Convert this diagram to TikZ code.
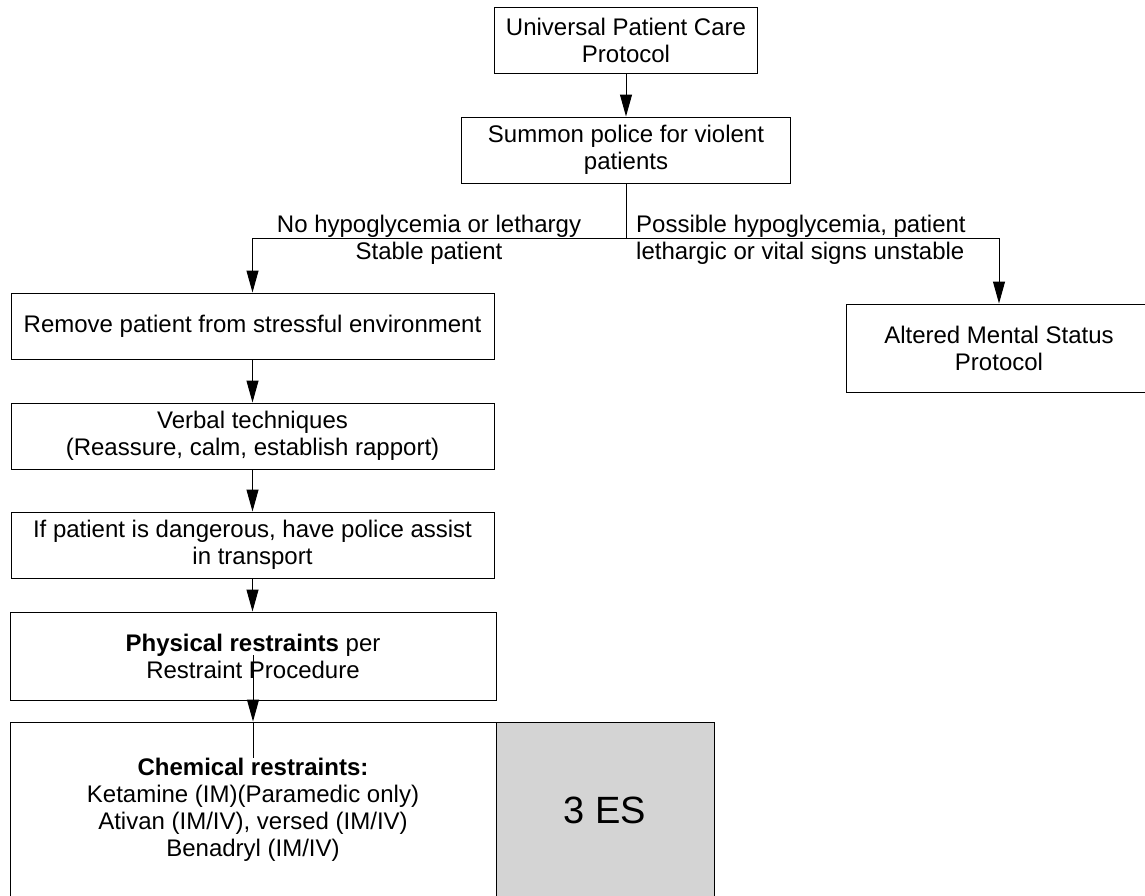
\documentclass[tikz,border=0pt]{standalone}
\usepackage{fontspec}
\setmainfont{Liberation Sans}
\usetikzlibrary{arrows.meta}
\definecolor{boxgray}{RGB}{212,212,212}
\begin{document}
\begin{tikzpicture}[x=1pt,y=-1pt,
  box/.style={draw=black, line width=1pt, rectangle, inner sep=0pt, align=center,
    font=\fontsize{24}{27}\selectfont},
  conn/.style={line width=1pt},
  arr/.style={line width=1pt, -{Triangle[width=12pt,length=22pt]}},
  lbl/.style={inner sep=0pt, font=\fontsize{24}{27}\selectfont}]
\useasboundingbox (0,0) rectangle (1145,895);
\node[box, minimum width=263pt, minimum height=66pt] (b1) at (626,40) {Universal Patient Care\\Protocol};
\node[box, minimum width=329pt, minimum height=66pt] (b2) at (626,150) {Summon police for violent\\patients};
\node[box, minimum width=483pt, minimum height=66pt] (b3) at (252.5,326) {Remove patient from stressful environment};
\node[box, minimum width=483pt, minimum height=66pt] (b4) at (252.5,436) {Verbal techniques\\(Reassure, calm, establish rapport)};
\node[box, minimum width=483pt, minimum height=66pt] (b5) at (252.5,545) {If patient is dangerous, have police assist\\in transport};
\node[box, minimum width=486pt, minimum height=88pt] (b6) at (253,656) {\textbf{Physical restraints} per\\Restraint Procedure};
\node[box, minimum width=486pt, minimum height=176pt] (b7) at (253,810) {\textbf{Chemical restraints:}\\Ketamine (IM)(Paramedic only)\\Ativan (IM/IV), versed (IM/IV)\\Benadryl (IM/IV)};
\node[box, fill=boxgray, minimum width=218pt, minimum height=176pt, font=\fontsize{38}{44}\selectfont] (b8) at (605,810) {3 ES};
\node[box, minimum width=306pt, minimum height=88pt] (b9) at (999,348) {Altered Mental Status\\Protocol};

\coordinate (j) at (626,238);
\coordinate (p1) at (253,655);
\coordinate (p2) at (253,758);

\draw[arr] (b1.south) -- (b2.north);
\draw[conn] (b2.south) -- (j);
\draw[arr] (j) -| (b3.north);
\draw[arr] (j) -| (b9.north);
\draw[arr] (b3.south) -- (b4.north);
\draw[arr] (b4.south) -- (b5.north);
\draw[arr] (b5.south) -- (b6.north -| b5.south);
\draw[arr] (p1) -- (p1 |- b7.north);
\draw[conn] (p1 |- b7.north) -- (p2);

\node[lbl, align=center] (l1) at (429,240) {No hypoglycemia or lethargy\\Stable patient};
\node[lbl, align=left, anchor=west] (l2) at (636,240) {Possible hypoglycemia, patient\\lethargic or vital signs unstable};
\end{tikzpicture}
\end{document}
